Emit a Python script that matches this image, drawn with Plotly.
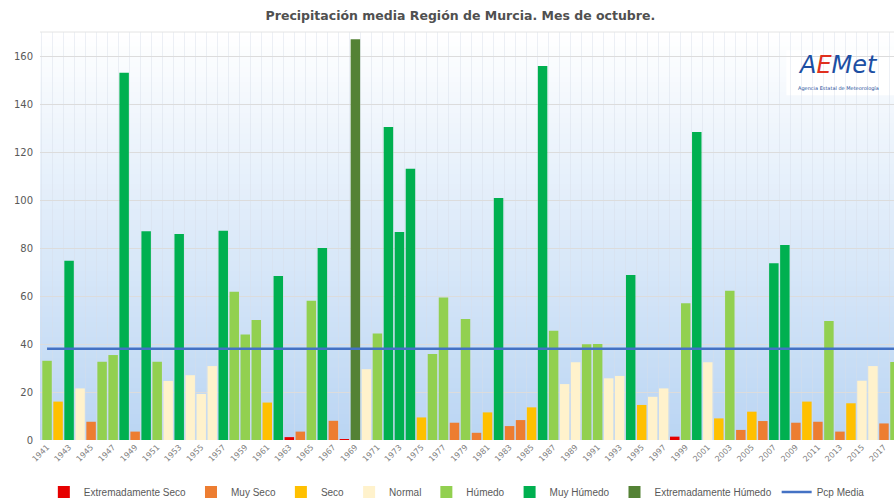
import plotly.graph_objects as go

years = list(range(1941, 2019))
precip = [33.0, 16.0, 74.7, 21.5, 7.6, 32.6, 35.4, 153.0, 3.5, 87.0,
          32.6, 24.6, 85.8, 27.0, 19.2, 30.8, 87.2, 61.8, 44.0, 50.0,
          15.6, 68.3, 1.2, 3.5, 58.0, 80.0, 8.0, 0.4, 167.0, 29.5,
          44.4, 130.4, 86.7, 113.0, 9.4, 35.8, 59.4, 7.2, 50.4, 3.0,
          11.5, 100.8, 5.8, 8.3, 13.6, 155.8, 45.5, 23.3, 32.4, 39.9,
          40.0, 25.7, 26.7, 68.8, 14.6, 18.0, 21.5, 1.4, 57.0, 128.3,
          32.4, 9.0, 62.2, 4.2, 11.8, 7.9, 73.6, 81.2, 7.2, 16.0,
          7.6, 49.6, 3.5, 15.3, 24.7, 30.8, 6.9, 32.5]
category = ["H", "S", "MH", "N", "MS", "H", "H", "MH", "MS", "MH",
            "H", "N", "MH", "N", "N", "N", "MH", "H", "H", "H",
            "S", "MH", "ES", "MS", "H", "MH", "MS", "ES", "EH", "N",
            "H", "MH", "MH", "MH", "S", "H", "H", "MS", "H", "MS",
            "S", "MH", "MS", "MS", "S", "MH", "H", "N", "N", "H",
            "H", "N", "N", "MH", "S", "N", "N", "ES", "H", "MH",
            "N", "S", "H", "MS", "S", "MS", "MH", "MH", "MS", "S",
            "MS", "H", "MS", "S", "N", "N", "MS", "H"]
class_codes = ["ES", "MS", "S", "N", "H", "MH", "EH"]
class_names = ["Extremadamente Seco", "Muy Seco", "Seco", "Normal",
               "Húmedo", "Muy Húmedo", "Extremadamente Húmedo"]
class_colors = ["#E60000", "#ED7D31", "#FFC000", "#FFF2CC",
                "#92D050", "#00B050", "#548235"]
mean_pcp = 38.0
mean_name = "Pcp Media"
title_text = "Precipitación media Región de Murcia. Mes de octubre."
y_ticks = [0, 20, 40, 60, 80, 100, 120, 140, 160]
x_ticks = list(range(1941, 2018, 2))

fig = go.Figure()
for code, name, color in zip(class_codes, class_names, class_colors):
    xs = [y for y, c in zip(years, category) if c == code]
    vs = [v for v, c in zip(precip, category) if c == code]
    fig.add_trace(go.Bar(x=xs, y=vs, name=name, width=0.86,
                         marker=dict(color=color, line=dict(width=0))))

fig.add_trace(go.Scatter(x=years, y=[mean_pcp] * len(years), mode="lines",
                         name=mean_name,
                         line=dict(color="#4472C4", width=2.5)))

# vertical gradient background (white at top -> light blue at bottom)
n_bands = 80
shapes = []
top = (255, 255, 255)
bot = (186, 213, 243)
for i in range(n_bands):
    t = (i + 0.5) / n_bands
    c = tuple(int(round(top[k] + (bot[k] - top[k]) * t)) for k in range(3))
    shapes.append(dict(type="rect", xref="paper", yref="paper", x0=0, x1=1,
                       y0=1 - (i + 1) / n_bands, y1=1 - i / n_bands + 0.002,
                       fillcolor="rgb(%d,%d,%d)" % c, line=dict(width=0),
                       layer="below"))
shapes.append(dict(type="line", xref="paper", yref="paper", x0=0, x1=1,
                   y0=1, y1=1, line=dict(color="#e4e4e4", width=1)))
# white backing behind the logo
shapes.append(dict(type="rect", xref="paper", yref="paper",
                   x0=0.874, x1=1.0, y0=0.845, y1=0.955,
                   fillcolor="white", line=dict(width=0), layer="below"))

fig.update_layout(
    width=894, height=499,
    margin=dict(l=40, r=0, t=32, b=59),
    paper_bgcolor="white", plot_bgcolor="white",
    barmode="overlay",
    font=dict(family="DejaVu Sans", color="#595959"),
    title=dict(text=title_text, x=0.515, xanchor="center", y=0.968,
               yanchor="middle",
               font=dict(family="DejaVu Sans", size=12.5, color="#505050",
                         weight="bold")),
    shapes=shapes,
    showlegend=True,
    legend=dict(orientation="h", xref="container", yref="container",
                x=0.511, xanchor="center", y=0.014, yanchor="middle",
                font=dict(family="Liberation Sans", size=10,
                          color="#595959"),
                itemwidth=30, tracegroupgap=0, bgcolor="rgba(0,0,0,0)"),
    xaxis=dict(range=[1940.36, 2017.91], tickmode="array", tickvals=x_ticks,
               ticktext=[str(t) for t in x_ticks], tickangle=-45,
               tickfont=dict(size=8, color="#7f7f7f"), showgrid=False,
               zeroline=False, showline=False, ticks="", automargin=False,
               minor=dict(showgrid=True, tickmode="linear", tick0=1940.5,
                          dtick=1, gridcolor="rgba(215,222,232,0.45)",
                          gridwidth=1)),
    yaxis=dict(range=[0, 170], tickmode="array", tickvals=y_ticks,
               tickfont=dict(size=10, color="#595959"),
               gridcolor="#dcdcdc", gridwidth=1, zeroline=False,
               showline=False, ticklabelstandoff=6, automargin=False),
)

# AEMET logo as text
fig.add_annotation(xref="paper", yref="paper", x=0.935, y=0.918,
                   xanchor="center", yanchor="middle", showarrow=False,
                   text="<i><span style='color:#1d4fa3'>A</span>"
                        "<span style='color:#e0301e'>E</span>"
                        "<span style='color:#1d4fa3'>Met</span></i>",
                   font=dict(family="DejaVu Sans", size=24))
fig.add_annotation(xref="paper", yref="paper", x=0.935, y=0.862,
                   xanchor="center", yanchor="middle", showarrow=False,
                   text="Agencia Estatal de Meteorología",
                   font=dict(family="DejaVu Sans", size=5, color="#2a4f9a"))

fig.write_html("out.html",
               config={"displayModeBar": False},
               post_script="document.body.style.margin='0';"
                           "document.body.style.padding='0';")
